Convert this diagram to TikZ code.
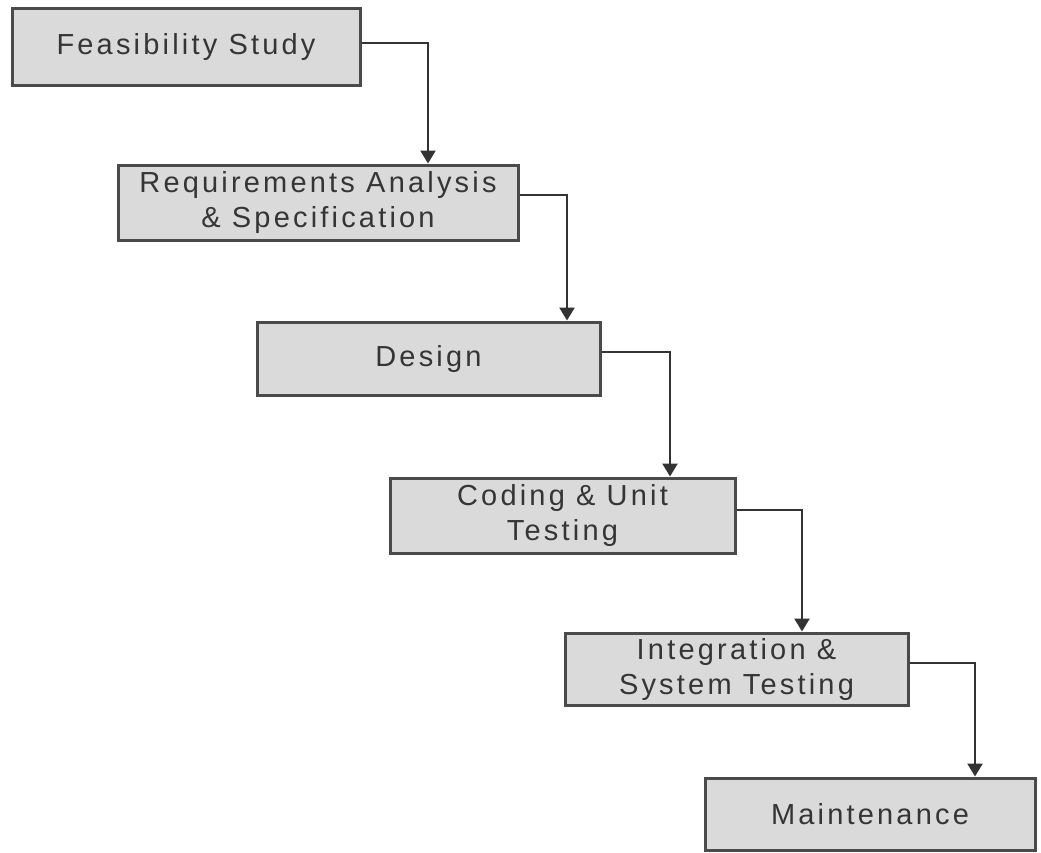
\documentclass[tikz,border=0pt]{standalone}
\usepackage{fontspec}
\newfontfamily\labfont[LetterSpace=11]{Liberation Sans}
\usetikzlibrary{arrows.meta,calc}
\definecolor{boxfill}{HTML}{DADADA}
\definecolor{boxline}{HTML}{4A4A4A}
\definecolor{txt}{HTML}{353535}
\definecolor{conn}{HTML}{333333}
\begin{document}
\begin{tikzpicture}[x=1pt,y=-1pt,
  stage/.style={draw=boxline,line width=3pt,fill=boxfill,inner sep=0pt,
    text=txt,align=center,font=\labfont\fontsize{29}{35}\selectfont},
  arr/.style={draw=conn,line width=2.5pt,-{Triangle[width=15pt,length=13pt]}}]
\useasboundingbox (0,0) rectangle (1041,852);
\node[stage,minimum width=348pt,minimum height=77pt] (b1) at (186,46.5) {Feasibility Study};
\node[stage,minimum width=400pt,minimum height=75pt] (b2) at (318,202.5) {Requirements Analysis\\\& Specification};
\node[stage,minimum width=343pt,minimum height=73pt] (b3) at (428.5,358.5) {Design};
\node[stage,minimum width=345pt,minimum height=75pt] (b4) at (562.5,515.5) {Coding \& Unit\\Testing};
\node[stage,minimum width=343pt,minimum height=72pt] (b5) at (736.5,669) {Integration \&\\System Testing};
\node[stage,minimum width=330pt,minimum height=72pt] (b6) at (870,814) {Maintenance};
\coordinate (k1) at (428,0);
\coordinate (k2) at (567,0);
\coordinate (k3) at (670,0);
\coordinate (k4) at (802,0);
\coordinate (k5) at (975,0);
\draw[arr] ([yshift=3.5pt]b1.east) -| (k1 |- b2.north);
\draw[arr] ([yshift=7.5pt]b2.east) -| (k2 |- b3.north);
\draw[arr] ([yshift=6.5pt]b3.east) -| (k3 |- b4.north);
\draw[arr] ([yshift=5.5pt]b4.east) -| (k4 |- b5.north);
\draw[arr] ([yshift=6pt]b5.east) -| (k5 |- b6.north);
\end{tikzpicture}
\end{document}
